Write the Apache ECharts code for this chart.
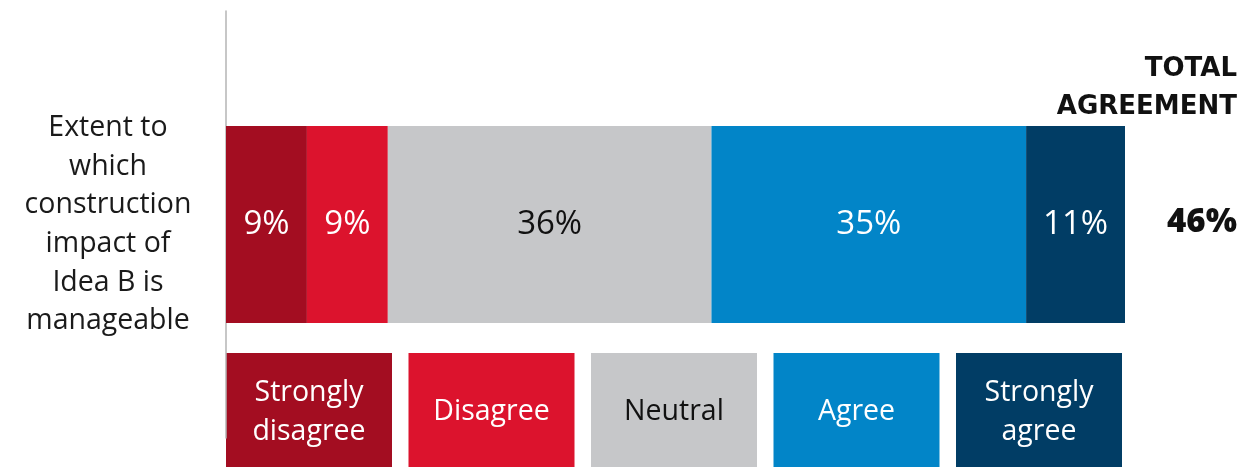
<!DOCTYPE html>
<html>
<head>
<meta charset="utf-8">
<style>
  html, body { margin: 0; padding: 0; background: #fff; }
  #chart { width: 1242px; height: 467px; }
</style>
<script src="https://cdn.jsdelivr.net/npm/echarts@6/dist/echarts.min.js"></script>
</head>
<body>
<div id="chart"></div>
<script>
// Survey question (one row) and response shares
const questions = ['Extent to\nwhich\nconstruction\nimpact of\nIdea B is\nmanageable'];
const responses = ['Strongly disagree', 'Disagree', 'Neutral', 'Agree', 'Strongly agree'];
const legendLabels = ['Strongly\ndisagree', 'Disagree', 'Neutral', 'Agree', 'Strongly\nagree'];
const shares = [9, 9, 36, 35, 11];
const colors = ['#A30D21', '#DC132D', '#C6C7C9', '#0285C8', '#013D65'];
const labelColors = ['#fff', '#fff', '#111', '#fff', '#fff'];
const totalTitleLines = ['TOTAL', 'AGREEMENT'];

// Total agreement = Agree + Strongly agree
const totalAgreement = shares[3] + shares[4];

const FONT = '"Open Sans", "Noto Sans", sans-serif';
const HEAD_FONT = '"DejaVu Sans", "Open Sans", sans-serif';
const chart = echarts.init(document.getElementById('chart'));

const series = responses.map((name, i) => ({
  name,
  type: 'bar',
  stack: 'total',
  barWidth: 197,
  data: [shares[i]],
  itemStyle: { color: colors[i] },
  label: {
    show: true,
    position: 'inside',
    formatter: '{c}%',
    color: labelColors[i],
    fontFamily: FONT,
    fontSize: 33,
    fontWeight: 400
  },
  emphasis: { disabled: true }
}));

// Legend swatches along the bottom, each with its label inside
const legendLeft = 226, legendPitch = 182.5, boxW = 166, boxTop = 353, boxH = 114;
const legendGraphics = responses.map((name, i) => ({
  type: 'group',
  left: legendLeft + i * legendPitch,
  top: boxTop,
  children: [
    { type: 'rect', shape: { x: 0, y: 0, width: boxW, height: boxH }, style: { fill: colors[i] } },
    {
      type: 'text',
      x: boxW / 2,
      y: 59,
      style: {
        text: legendLabels[i],
        fill: labelColors[i],
        font: '400 28.5px ' + FONT,
        align: 'center',
        verticalAlign: 'middle',
        lineHeight: 39
      }
    }
  ]
}));

// Right-aligned heading above the total column, one text per line
const headingGraphics = totalTitleLines.map((line, i) => ({
  type: 'text',
  right: 5,
  top: 56 + i * 38,
  style: {
    text: line,
    font: 'bold 26px ' + HEAD_FONT,
    fill: '#111'
  }
}));

chart.setOption({
  animation: false,
  grid: { left: 226, right: 117, top: 11, bottom: 29 },
  xAxis: {
    type: 'value',
    min: 0,
    max: 100,
    show: false
  },
  yAxis: {
    type: 'category',
    data: questions,
    axisLine: { show: true, lineStyle: { color: '#b5b5b5', width: 1.5 } },
    axisTick: { show: false },
    axisLabel: {
      margin: 118,
      align: 'center',
      fontFamily: FONT,
      fontSize: 28.5,
      lineHeight: 38.7,
      color: '#1a1a1a'
    }
  },
  series,
  graphic: [
    ...legendGraphics,
    ...headingGraphics,
    {
      type: 'text',
      right: 5,
      top: 206,
      style: {
        text: totalAgreement + '%',
        font: '800 33px ' + FONT,
        fill: '#111'
      }
    }
  ]
});
</script>
</body>
</html>
